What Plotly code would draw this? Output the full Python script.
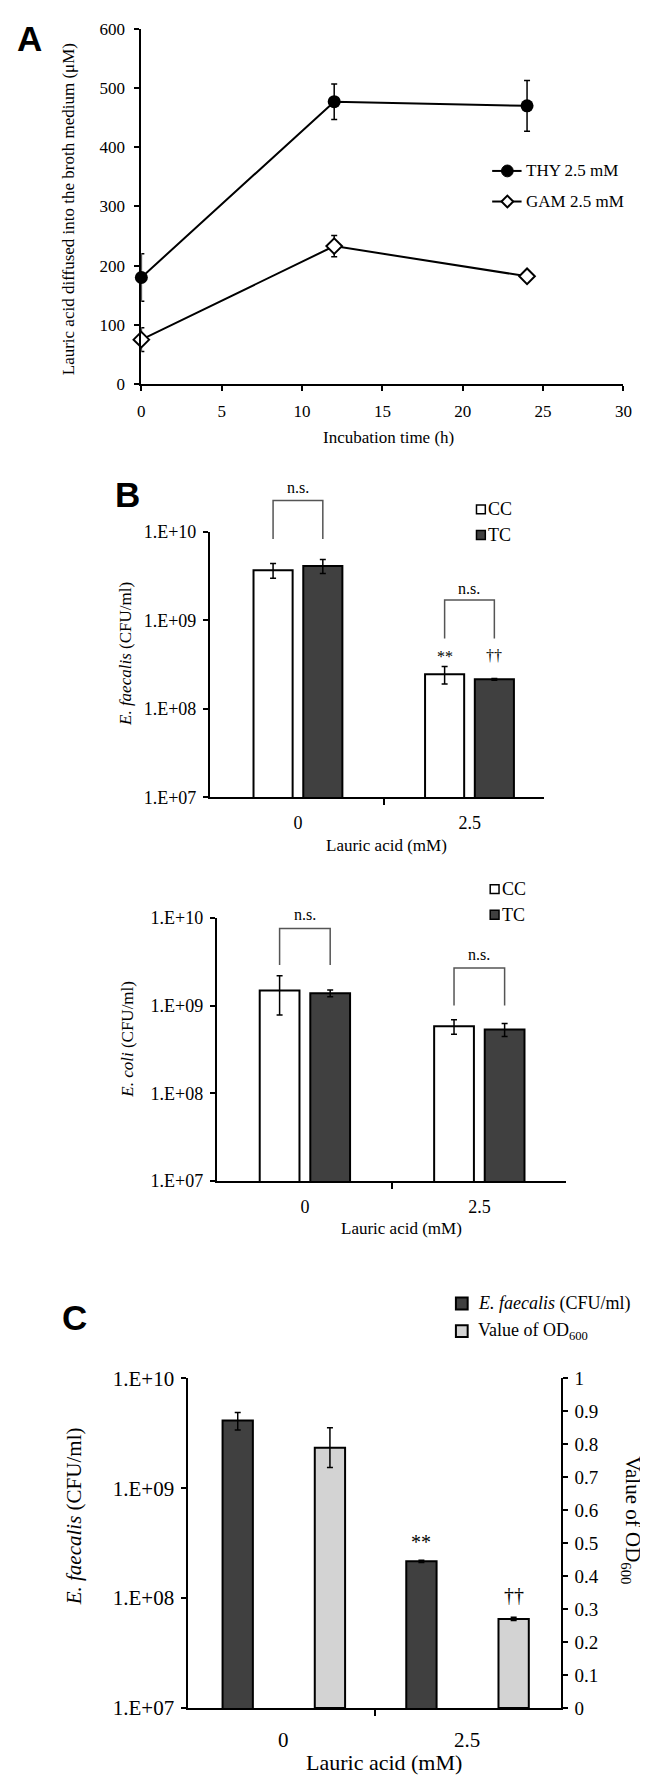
import plotly.graph_objects as go

W, H = 648, 1781
SERIF = "Liberation Serif, Times New Roman, serif"
SANS = "Liberation Sans, Arial, sans-serif"

# panel A - lauric acid in broth (uM)
hours = [0, 12, 24]
thy = [180, 477, 470]
thy_err = [40, 30, 43]
gam = [75, 233, 182]
gam_err = [20, 18, 3]

# panel B - CFU/ml, CC vs TC
lauric = ["0", "2.5"]
ef_cc = [3.7e9, 2.46e8]
ef_cc_err = [0.7e9, 0.55e8]
ef_tc = [4.14e9, 2.16e8]
ef_tc_err = [0.75e9, 0.05e8]
ec_cc = [1.48e9, 5.8e8]
ec_cc_err = [0.7e9, 1.1e8]
ec_tc = [1.38e9, 5.35e8]
ec_tc_err = [0.12e9, 0.9e8]

# panel C - CFU/ml and OD600
c_cfu = [4.14e9, 2.16e8]
c_cfu_err = [0.75e9, 0.05e8]
c_od = [0.79, 0.27]
c_od_err = [0.06, 0.005]

log_ticks = [1e7, 1e8, 1e9, 1e10]
log_text = ["1.E+07", "1.E+08", "1.E+09", "1.E+10"]

pos = list(range(len(lauric)))


def fx(p):
    return p / W


def fy(p):
    return 1 - p / H


def err(vals, thick=1.5, w=3):
    return dict(type="data", array=vals, color="black", thickness=thick, width=w)


fig = go.Figure()

# ---- A ----
fig.add_trace(go.Scatter(
    x=hours, y=thy, mode="lines+markers", error_y=err(thy_err),
    line=dict(color="black", width=2),
    marker=dict(symbol="circle", size=13, color="black"),
    cliponaxis=False, xaxis="x", yaxis="y", showlegend=False))
fig.add_trace(go.Scatter(
    x=hours, y=gam, mode="lines+markers", error_y=err(gam_err),
    line=dict(color="black", width=2),
    marker=dict(symbol="diamond", size=12, color="white", line=dict(color="black", width=2)),
    cliponaxis=False, xaxis="x", yaxis="y", showlegend=False))

# ---- B (E. faecalis, E. coli) ----
bw_b = 0.228
for cc, cce, tc, tce, xa, ya in [(ef_cc, ef_cc_err, ef_tc, ef_tc_err, "x2", "y2"),
                                 (ec_cc, ec_cc_err, ec_tc, ec_tc_err, "x3", "y3")]:
    fig.add_trace(go.Bar(
        x=pos, y=cc, offset=-0.26, width=bw_b, error_y=err(cce),
        marker=dict(color="white", line=dict(color="black", width=2)),
        xaxis=xa, yaxis=ya, showlegend=False))
    fig.add_trace(go.Bar(
        x=pos, y=tc, offset=0.03, width=bw_b, error_y=err(tce),
        marker=dict(color="#404040", line=dict(color="black", width=2)),
        xaxis=xa, yaxis=ya, showlegend=False))

# ---- C ----
bw_c = 0.165
fig.add_trace(go.Bar(
    x=pos, y=c_cfu, offset=-0.331, width=bw_c, error_y=err(c_cfu_err),
    marker=dict(color="#404040", line=dict(color="black", width=2)),
    xaxis="x4", yaxis="y4", showlegend=False))
fig.add_trace(go.Bar(
    x=pos, y=c_od, offset=0.171, width=bw_c, error_y=err(c_od_err),
    marker=dict(color="#d3d3d3", line=dict(color="black", width=2)),
    xaxis="x4", yaxis="y5", showlegend=False))

ax = dict(showline=True, linecolor="black", linewidth=2, showgrid=False, zeroline=False,
          ticks="outside", tickcolor="black", tickwidth=2, ticklen=5,
          tickfont=dict(family=SERIF, size=17, color="black"))


def cat_x(dom, rng, anchor, size=18, standoff=8):
    return dict(ax, domain=dom, range=rng, anchor=anchor, tickmode="array",
                tickvals=pos, ticktext=lauric, ticks="", ticklabelstandoff=standoff,
                tickfont=dict(family=SERIF, size=size, color="black"),
                minor=dict(tickmode="array", tickvals=[0.5], ticks="outside",
                           ticklen=6, tickwidth=2, tickcolor="black"))


def log_y(dom, anchor, size=18):
    return dict(ax, domain=dom, type="log", range=[7, 10], anchor=anchor,
                tickmode="array", tickvals=log_ticks, ticktext=log_text, ticklabelstandoff=3,
                tickfont=dict(family=SERIF, size=size, color="black"))


fig.update_layout(
    width=W, height=H, autosize=False,
    margin=dict(l=0, r=0, t=0, b=0),
    paper_bgcolor="white", plot_bgcolor="white",
    barmode="overlay", showlegend=False,
    xaxis=dict(ax, domain=[fx(132), fx(624)], range=[0, 30], dtick=5, anchor="y",
               ticklabelstandoff=6),
    yaxis=dict(ax, domain=[fy(369), fy(9)], range=[0, 600], dtick=100, anchor="x",
               ticklabelstandoff=6),
    xaxis2=cat_x([fx(202), fx(543)], [-0.514, 1.434], "y2"),
    yaxis2=log_y([fy(788), fy(519)], "x2"),
    xaxis3=cat_x([fx(209), fx(565)], [-0.506, 1.494], "y3"),
    yaxis3=log_y([fy(1177), fy(910)], "x3"),
    xaxis4=cat_x([fx(180), fx(560)], [-0.517, 1.51], "y4", size=21, standoff=12),
    yaxis4=log_y([fy(1711), fy(1377)], "x4", size=21),
    yaxis5=dict(ax, domain=[fy(1711), fy(1377)], range=[0, 1], dtick=0.1, anchor="x4",
                overlaying="y4", side="right", ticklabelstandoff=3,
                tickfont=dict(family=SERIF, size=19, color="black")),
)

anns = []
shapes = []


def text(x, y, s, size=17, xa="center", ya="middle", angle=0, font=SERIF):
    anns.append(dict(x=fx(x), y=fy(y), xref="paper", yref="paper", text=s, showarrow=False,
                     xanchor=xa, yanchor=ya, textangle=angle,
                     font=dict(family=font, size=size, color="black")))


# panel letters
text(18, 19, "<b>A</b>", size=35, font=SANS)
text(118, 481, "<b>B</b>", size=35, font=SANS)
text(64, 1315, "<b>C</b>", size=35, font=SANS)

# axis titles
text(58, 192, "Lauric acid diffused into the broth medium (μM)", size=17, angle=-90)
text(384, 423, "Incubation time (h)", size=17)
text(116, 643, "<i>E. faecalis</i> (CFU/ml)", size=17, angle=-90)
text(382, 837, "Lauric acid (mM)", size=17)
text(117, 1033, "<i>E. coli</i> (CFU/ml)", size=17, angle=-90)
text(397, 1225, "Lauric acid (mM)", size=17)
text(63, 1517, "<i>E. faecalis</i> (CFU/ml)", size=21, angle=-90)
text(633, 1521, "Value of OD<sub>600</sub>", size=21, angle=90)
text(380, 1766, "Lauric acid (mM)", size=22)

# legend A
for yy, filled in [(153, True), (184, False)]:
    shapes.append(dict(type="line", xref="paper", yref="paper", x0=fx(490), x1=fx(520),
                       y0=fy(yy), y1=fy(yy), line=dict(color="black", width=2)))
    if filled:
        shapes.append(dict(type="circle", xref="paper", yref="paper",
                           x0=fx(499.5), x1=fx(511.5), y0=fy(yy + 6), y1=fy(yy - 6),
                           fillcolor="black", line=dict(color="black", width=1)))
    else:
        path = "M {} {} L {} {} L {} {} L {} {} Z".format(
            fx(505.5), fy(yy - 6), fx(511.5), fy(yy), fx(505.5), fy(yy + 6), fx(499.5), fy(yy))
        shapes.append(dict(type="path", xref="paper", yref="paper", path=path,
                           fillcolor="white", line=dict(color="black", width=2)))
text(522, 153, "THY 2.5 mM", xa="left")
text(522, 184, "GAM 2.5 mM", xa="left")

# legends B
for x0, ycc, ytc in [(474, 496, 522), (488, 881, 907)]:
    for yy, col, lab in [(ycc, "white", "CC"), (ytc, "#404040", "TC")]:
        shapes.append(dict(type="rect", xref="paper", yref="paper",
                           x0=fx(x0), x1=fx(x0 + 9), y0=fy(yy + 4.5), y1=fy(yy - 4.5),
                           fillcolor=col, line=dict(color="black", width=1.5)))
        text(x0 + 10, yy, lab, xa="left", size=18)

# legend C
for yy, col, lab in [(1301, "#404040", "<i>E. faecalis</i> (CFU/ml)"),
                     (1329, "#d3d3d3", "Value of OD<sub>600</sub>")]:
    shapes.append(dict(type="rect", xref="paper", yref="paper",
                       x0=fx(453), x1=fx(465), y0=fy(yy + 6), y1=fy(yy - 6),
                       fillcolor=col, line=dict(color="black", width=2)))
    text(473, yy, lab, xa="left", size=18)

# significance brackets (x on bar centres, y in page px)
cc_c = -0.26 + bw_b / 2
tc_c = 0.03 + bw_b / 2
for xa, g, top, bot, lab_y in [("x2", 0, 487, 526, 474), ("x2", 1, 588, 627, 576),
                               ("x3", 0, 921, 958, 907), ("x3", 1, 961, 999, 947)]:
    path = "M {} {} L {} {} L {} {} L {} {}".format(
        g + cc_c, fy(bot), g + cc_c, fy(top), g + tc_c, fy(top), g + tc_c, fy(bot))
    shapes.append(dict(type="path", xref=xa, yref="paper", path=path,
                       line=dict(color="#555555", width=1.5)))
    anns.append(dict(x=g + (cc_c + tc_c) / 2, y=fy(lab_y), xref=xa, yref="paper",
                     text="n.s.", showarrow=False, yanchor="middle",
                     font=dict(family=SERIF, size=16, color="black")))

for xa, xv, yy, s, sz in [("x2", 1 + cc_c, 645, "**", 16), ("x2", 1 + tc_c, 644, "††", 16),
                          ("x4", 1 - 0.331 + bw_c / 2, 1543, "**", 20),
                          ("x4", 1 + 0.171 + bw_c / 2, 1597, "††", 20)]:
    anns.append(dict(x=xv, y=fy(yy), xref=xa, yref="paper", text=s, showarrow=False,
                     yanchor="middle", font=dict(family=SERIF, size=sz, color="black")))

fig.update_layout(annotations=anns, shapes=shapes)

fig.write_html("out.html")
